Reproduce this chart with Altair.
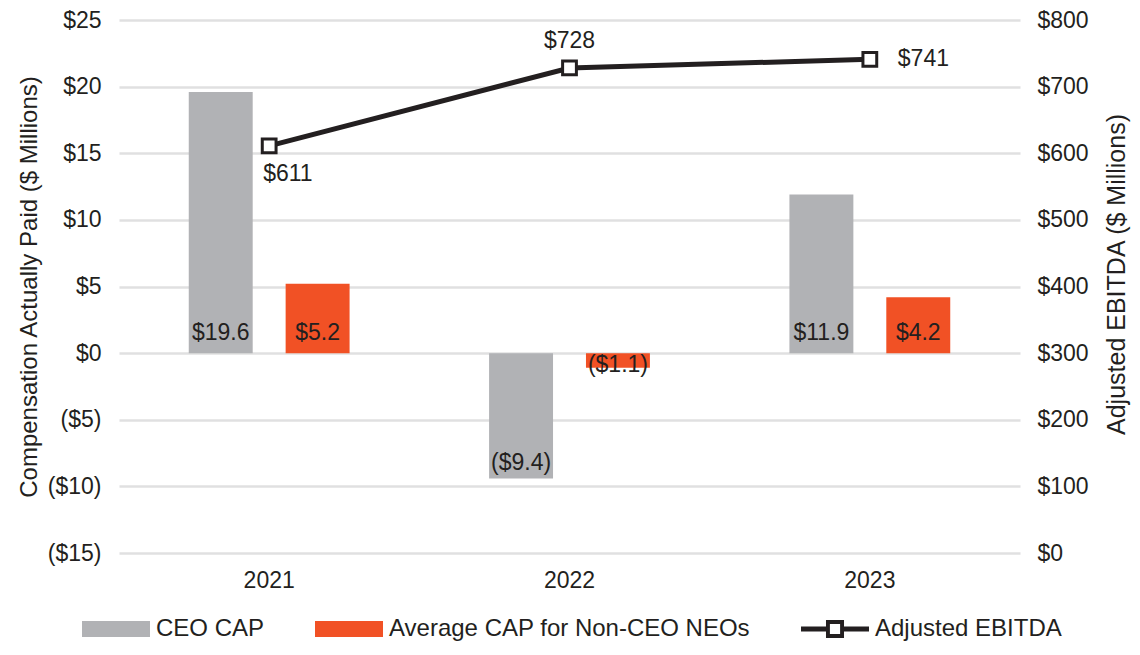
import altair as alt
import pandas as pd

# ---- data ----
years = ["2021", "2022", "2023"]
ceo_cap = [19.6, -9.4, 11.9]
neo_cap = [5.2, -1.1, 4.2]
ebitda = [611, 728, 741]
series_names = ["CEO CAP", "Average CAP for Non-CEO NEOs", "Adjusted EBITDA"]
series_colors = ["#B1B2B5", "#F15125", "#231F20"]
left_ticks = [-15, -10, -5, 0, 5, 10, 15, 20, 25]
right_ticks = [0, 100, 200, 300, 400, 500, 600, 700, 800]

FONT = "Liberation Sans"
TXT = "#231F20"
GRID = "#E0E0E1"

bars_df = pd.DataFrame({
    "year": years * 2,
    "series": [series_names[0]] * 3 + [series_names[1]] * 3,
    "value": ceo_cap + neo_cap,
})
line_df = pd.DataFrame({"year": years, "ebitda": ebitda})
legend_df = pd.DataFrame({"series": series_names, "value": [None, None, None]})

# ---- encodings ----
x_enc = alt.X(
    "year:N", sort=years,
    scale=alt.Scale(paddingInner=0, paddingOuter=0),
    axis=alt.Axis(title=None, labelAngle=0, domain=False, ticks=False, tickSize=0,
                  labelPadding=16, labelFontSize=23, labelFont=FONT, labelColor=TXT,
                  grid=False),
)
x_off = alt.XOffset("series:N", sort=series_names[:2],
                    scale=alt.Scale(paddingInner=0.34, paddingOuter=0.72))

axisL = alt.Axis(
    title="Compensation Actually Paid ($ Millions)", values=left_ticks,
    labelExpr="datum.value < 0 ? '($' + (-datum.value) + ')' : '$' + datum.value",
    domain=False, ticks=False, tickSize=0, labelPadding=18,
    grid=True, gridColor=GRID, gridWidth=2.5,
    labelFontSize=23, labelFont=FONT, labelColor=TXT,
    titleFontSize=24, titleFont=FONT, titleColor=TXT, titleFontWeight="normal",
    titlePadding=6,
)
yscaleL = alt.Scale(domain=[-15, 25], nice=False, zero=False)

axisR = alt.Axis(
    orient="right", title="Adjusted EBITDA ($ Millions)", values=right_ticks,
    labelExpr="'$' + datum.value",
    domain=False, ticks=False, tickSize=0, labelPadding=17, grid=False,
    labelFontSize=23, labelFont=FONT, labelColor=TXT,
    titleFontSize=25, titleFont=FONT, titleColor=TXT, titleFontWeight="normal",
    titleAngle=270, titleBaseline="top", titlePadding=16, titleY=254, titleAlign="center",
)
yscaleR = alt.Scale(domain=[0, 800], nice=False, zero=False)

rect_path = "M-1,-0.235H1V0.235H-1Z"
line_path = ("M-1,-0.074H-0.265V-0.265H0.265V-0.074H1V0.074H0.265V0.265H-0.265V0.074H-1Z"
             "M-0.15,-0.15V0.15H0.15V-0.15Z")

legend = alt.Legend(
    title=None, orient="none", legendX=-37, legendY=575, direction="horizontal",
    labelFontSize=24, labelFont=FONT, labelColor=TXT, labelOffset=6, labelLimit=0,
    symbolSize=4624, columnPadding=50, padding=0, symbolStrokeWidth=0,
    symbolOpacity=1,
)
color_enc = alt.Color("series:N", scale=alt.Scale(domain=series_names, range=series_colors),
                      legend=legend)

# ---- left (bars) ----
bars = alt.Chart(bars_df).mark_bar().encode(
    x=x_enc, xOffset=x_off,
    y=alt.Y("value:Q", scale=yscaleL, axis=axisL),
    color=color_enc,
)

# legend-only layer (no drawable rows: values are empty)
legend_layer = alt.Chart(legend_df).mark_point(filled=True, strokeWidth=0, opacity=1).encode(
    y=alt.Y("value:Q", scale=yscaleL, axis=axisL),
    color=color_enc,
    shape=alt.Shape("series:N",
                    scale=alt.Scale(domain=series_names, range=[rect_path, rect_path, line_path]),
                    legend=legend),
)

lab_fmt = "datum.value < 0 ? '($' + format(-datum.value, '.1f') + ')' : '$' + format(datum.value, '.1f')"
base_lab = alt.Chart(bars_df).transform_calculate(
    label=lab_fmt, ly="datum.value >= 0 ? 0 : datum.value"
)
lab_enc = dict(x=x_enc, xOffset=x_off,
               y=alt.Y("ly:Q", scale=yscaleL, axis=axisL), text="label:N")
txt_style = dict(fontSize=23, font=FONT, color=TXT, baseline="alphabetic", align="center")

pos_lab = base_lab.transform_filter("datum.value >= 0").mark_text(dy=-13, **txt_style).encode(**lab_enc)
bneg_lab = base_lab.transform_filter("datum.value < -3").mark_text(dy=-8, **txt_style).encode(**lab_enc)
sneg_lab = base_lab.transform_filter("datum.value < 0 && datum.value >= -3").mark_text(dy=4, **txt_style).encode(**lab_enc)

left = alt.layer(bars, legend_layer, pos_lab, bneg_lab, sneg_lab)

# ---- right (line) ----
y_r = alt.Y("ebitda:Q", scale=yscaleR, axis=axisR)
line = alt.Chart(line_df).mark_line(color=TXT, strokeWidth=5).encode(x=x_enc, y=y_r)
pts = alt.Chart(line_df).mark_point(shape="square", filled=True, fill="white", stroke=TXT,
                                    strokeWidth=3, size=190, opacity=1).encode(x=x_enc, y=y_r)
base_el = alt.Chart(line_df).transform_calculate(label="'$' + datum.ebitda")
el_style = dict(fontSize=23, font=FONT, color=TXT, baseline="middle")
el_enc = dict(x=x_enc, y=y_r, text="label:N")
t1 = base_el.transform_filter("datum.year == '2021'").mark_text(align="left", dx=-6, dy=28, **el_style).encode(**el_enc)
t2 = base_el.transform_filter("datum.year == '2022'").mark_text(align="center", dy=-27, **el_style).encode(**el_enc)
t3 = base_el.transform_filter("datum.year == '2023'").mark_text(align="left", dx=28, **el_style).encode(**el_enc)

right = alt.layer(line, pts, t1, t2, t3)

chart = alt.layer(left, right).resolve_scale(y="independent").properties(
    width=901, height=533,
    autosize=alt.AutoSizeParams(type="none"),
    padding={"left": 111, "top": 12, "right": 112, "bottom": 90},
).configure_view(stroke=None)

chart.save("out.html", embed_options={"renderer": "svg", "actions": False})
